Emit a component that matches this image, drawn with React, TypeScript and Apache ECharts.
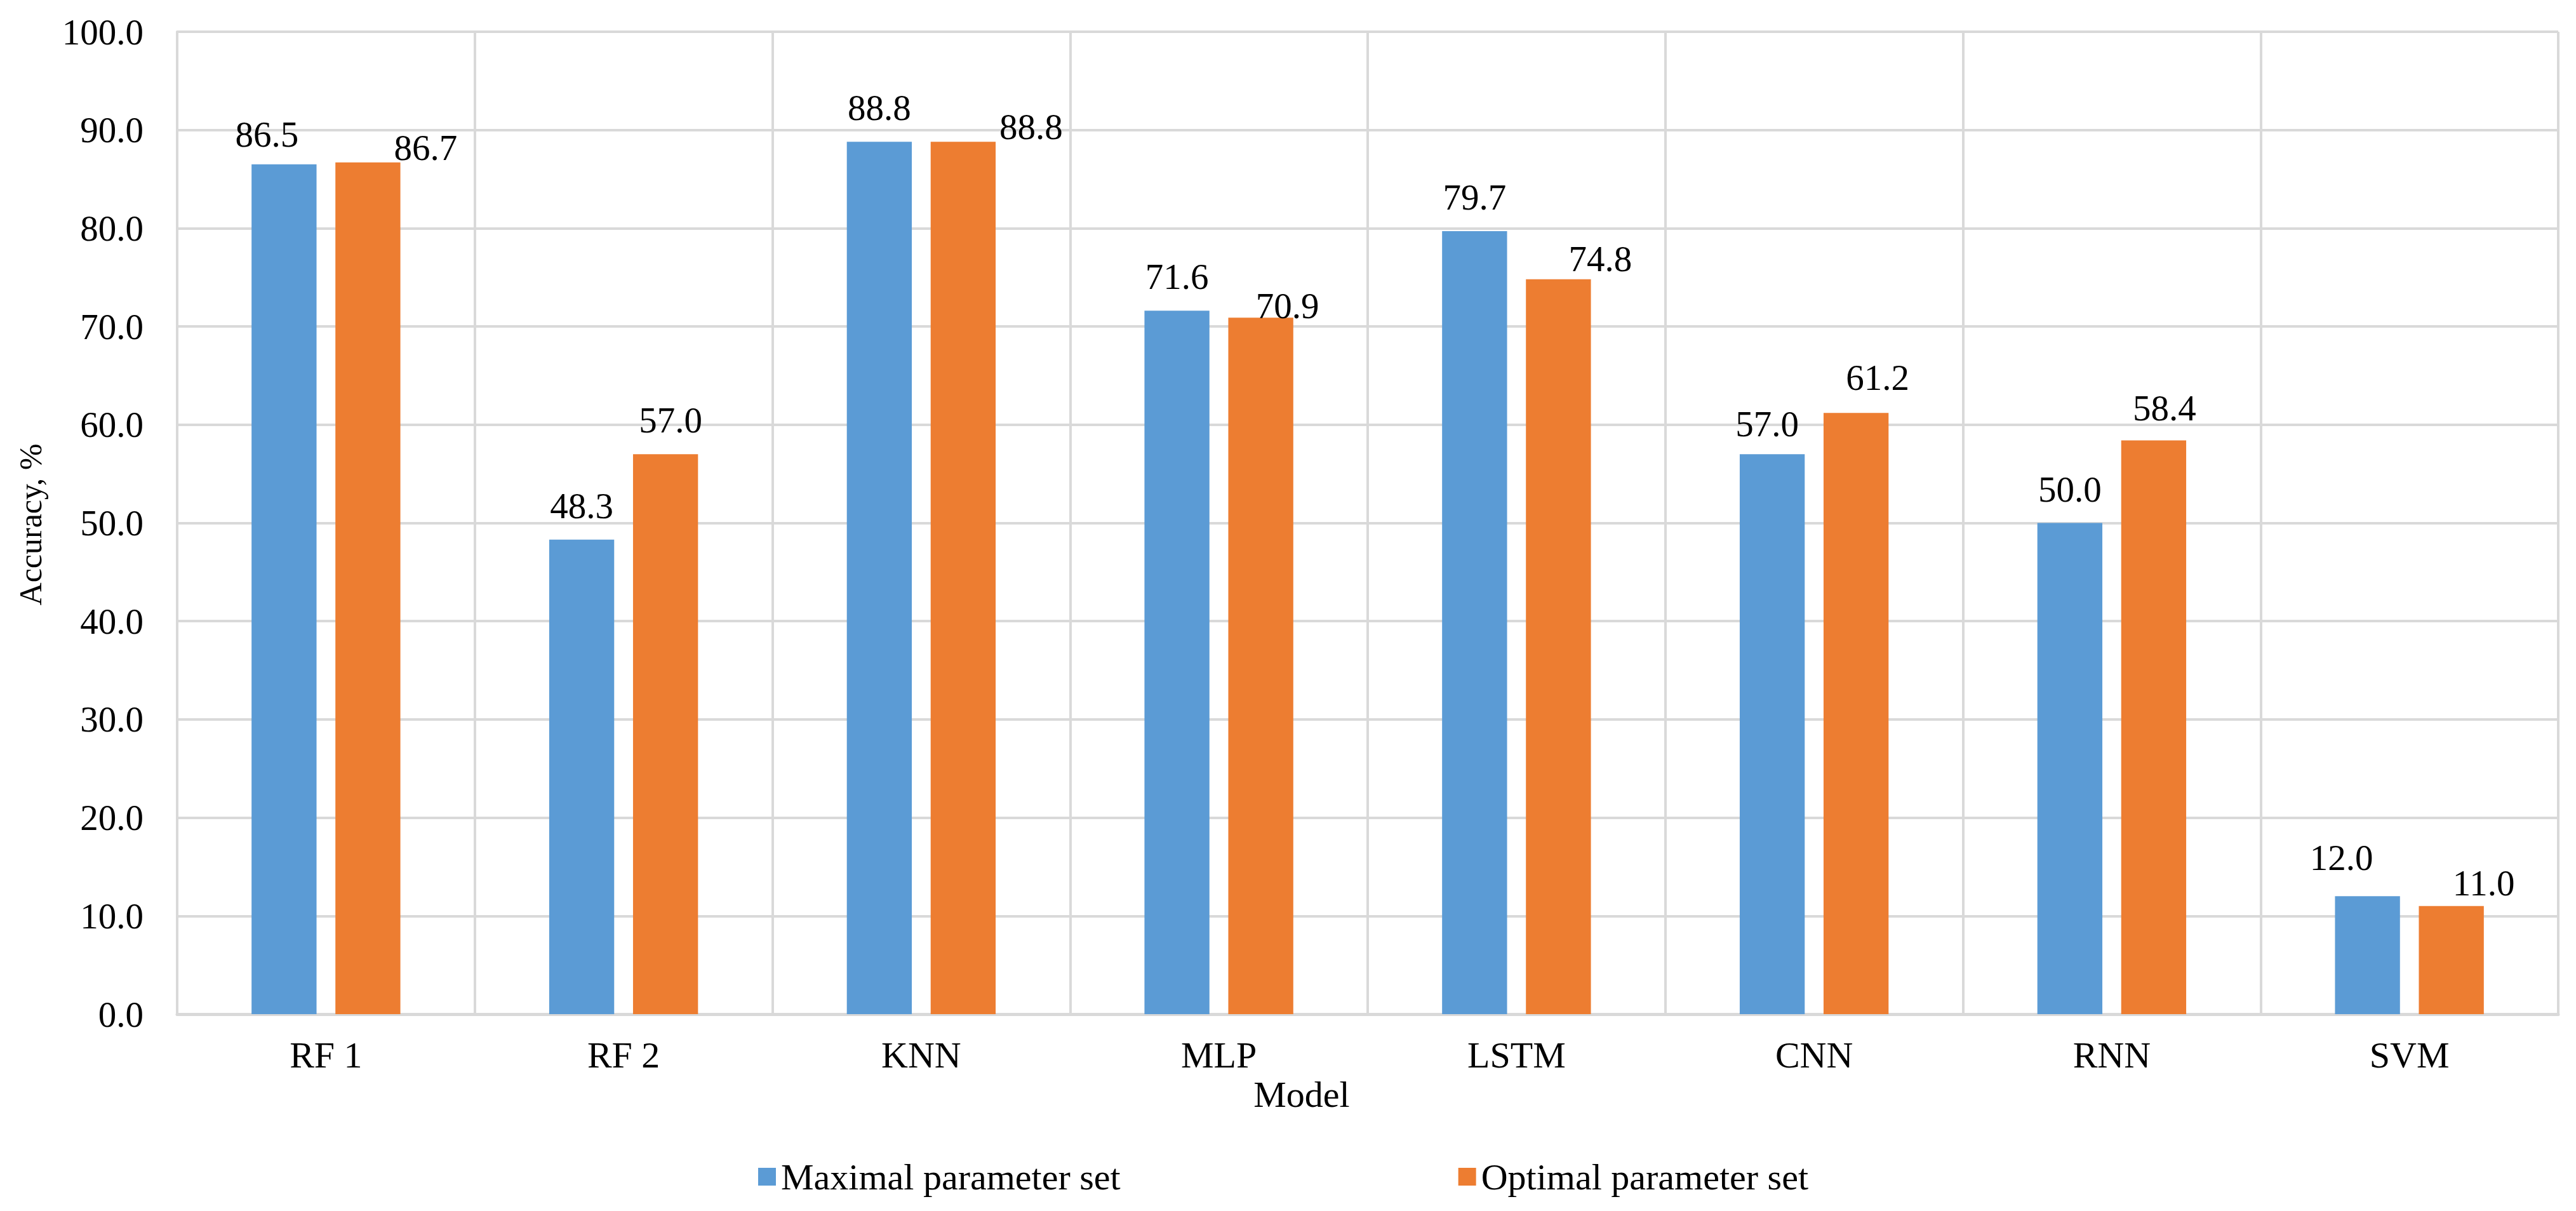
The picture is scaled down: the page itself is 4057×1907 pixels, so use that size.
import React, { useEffect, useRef } from "react";
import * as echarts from "echarts";

const categories = ["RF 1", "RF 2", "KNN", "MLP", "LSTM", "CNN", "RNN", "SVM"];
const maximalSet = [86.5, 48.3, 88.8, 71.6, 79.7, 57.0, 50.0, 12.0];
const optimalSet = [86.7, 57.0, 88.8, 70.9, 74.8, 61.2, 58.4, 11.0];
const seriesNames = ["Maximal parameter set", "Optimal parameter set"];
const yMin = 0;
const yMax = 100;
const yInterval = 10;
const xTitle = "Model";
const yTitle = "Accuracy, %";

// label nudges (layout only), [dx, dy] in px
const maximalLabelNudge = [[-27, 6], [0, 0], [0, 0], [0, 0], [0, 0], [-8, 6], [0, 0], [-41, -7]];
const optimalLabelNudge = [[91, 30], [8, 0], [107, 30], [42, 35], [66, 21], [34, -2], [17, 2], [51, 17]];

const FONT = "'Liberation Serif', 'Times New Roman', serif";
const GRID = "#d9d9d9";

export default function App() {
  const ref = useRef<HTMLDivElement>(null);
  useEffect(() => {
    if (!ref.current) return;
    const chart = echarts.init(ref.current, undefined, { renderer: "svg" });
    const mkData = (vals: number[], nudges: number[][]) =>
      vals.map((v, i) => ({ value: v, label: { offset: nudges[i] } }));
    const labelBase = {
      show: true,
      position: "top",
      distance: 25,
      fontFamily: FONT,
      fontSize: 57,
      color: "#000",
      formatter: (p: any) => Number(p.value).toFixed(1),
    };
    chart.setOption({
      animation: false,
      backgroundColor: "#ffffff",
      textStyle: { fontFamily: FONT },
      grid: { left: 279, right: 28, top: 50, bottom: 310, containLabel: false },
      legend: {
        data: seriesNames,
        left: 1194,
        top: 1824,
        padding: 0,
        itemWidth: 28,
        itemHeight: 28,
        itemGap: 532,
        icon: "rect",
        textStyle: { fontFamily: FONT, fontSize: 58, color: "#000", padding: [0, 0, 0, 3] },
      },
      xAxis: {
        type: "category",
        data: categories,
        boundaryGap: true,
        axisLine: { show: true, lineStyle: { color: GRID, width: 5 } },
        axisTick: { show: false },
        splitLine: { show: true, lineStyle: { color: GRID, width: 4 } },
        axisLabel: { fontFamily: FONT, fontSize: 58, color: "#000", margin: 35, interval: 0 },
      },
      yAxis: {
        type: "value",
        min: yMin,
        max: yMax,
        interval: yInterval,
        axisLine: { show: true, lineStyle: { color: GRID, width: 4 } },
        axisTick: { show: false },
        splitLine: { show: true, lineStyle: { color: GRID, width: 4 } },
        axisLabel: {
          fontFamily: FONT,
          fontSize: 57,
          color: "#000",
          margin: 53,
          formatter: (v: number) => v.toFixed(1),
        },
      },
      graphic: [
        {
          type: "text",
          x: 2050,
          y: 1723,
          style: {
            text: xTitle,
            fontFamily: FONT,
            fontSize: 58,
            fill: "#000",
            textAlign: "center",
            textVerticalAlign: "middle",
          },
        },
        {
          type: "text",
          x: 48,
          y: 826,
          rotation: Math.PI / 2,
          style: {
            text: yTitle,
            fontFamily: FONT,
            fontSize: 50,
            fill: "#000",
            textAlign: "center",
            textVerticalAlign: "middle",
          },
        },
      ],
      series: [
        {
          name: seriesNames[0],
          type: "bar",
          data: mkData(maximalSet, maximalLabelNudge),
          barCategoryGap: "50%",
          barGap: "29%",
          itemStyle: { color: "#5B9BD5" },
          label: labelBase,
        },
        {
          name: seriesNames[1],
          type: "bar",
          data: mkData(optimalSet, optimalLabelNudge),
          barCategoryGap: "50%",
          barGap: "29%",
          itemStyle: { color: "#ED7D31" },
          label: labelBase,
        },
      ],
    });
    return () => chart.dispose();
  }, []);
  return (
    <div
      ref={ref}
      style={{ position: "fixed", left: 0, top: 0, width: "4057px", height: "1907px", background: "#fff" }}
    />
  );
}
